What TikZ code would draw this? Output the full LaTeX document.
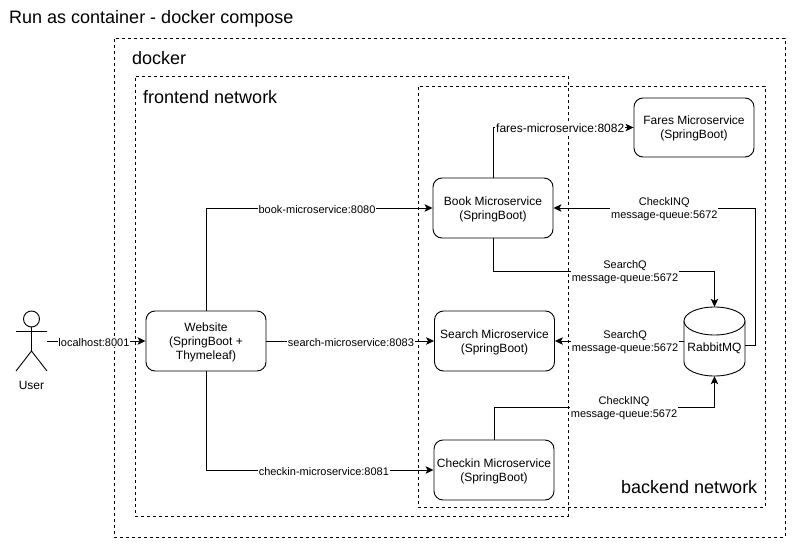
\documentclass[tikz,border=0pt]{standalone}
\usepackage{fontspec}
\setmainfont{Liberation Sans}
\usetikzlibrary{arrows.meta,positioning}
\tikzset{
  x=1pt,y=-1pt,
  zone/.style={draw=black,dash pattern=on 3pt off 3pt,line width=0.8pt,anchor=north west,inner sep=0pt},
  svc/.style={draw=black,line width=0.9pt,rounded corners=9pt,minimum width=120pt,minimum height=60pt,inner sep=0pt,align=center,font=\fontsize{12}{14}\selectfont,text depth=0pt},
  conn/.style={draw=black,line width=0.9pt,-{Stealth[length=8pt,width=7.5pt,inset=2pt]}},
  lab/.style={fill=white,inner sep=0.8pt,align=center,yshift=-1.5pt,font=\fontsize{11}{13.3}\selectfont},
  zonelab/.style={anchor=west,inner sep=0pt,font=\fontsize{18}{21}\selectfont},
}
\begin{document}
\begin{tikzpicture}
\useasboundingbox (0,0) rectangle (801,554);
\fill[white] (0,0) rectangle (801,554);
\node[zone,minimum width=671pt,minimum height=499pt] (docker) at (114,38) {};
\node[zone,minimum width=433pt,minimum height=440pt] (frontend) at (135,76) {};
\node[zone,minimum width=347pt,minimum height=421pt] (backend) at (418,86) {};
\node[zonelab] (title) at (9,19) {Run as container - docker compose};
\node[zonelab] (dockerl) at (132,58) {docker};
\node[zonelab] (frontl) at (143,97) {frontend network};
\node[zonelab] (backl) at (621,487) {backend network};

\node[svc] (web) at (206,341) {Website\\(SpringBoot +\\Thymeleaf)};
\node[svc] (book) at (493,208) {Book Microservice\\(SpringBoot)};
\node[svc] (search) at (494.5,341) {Search Microservice\\(SpringBoot)};
\node[svc] (checkin) at (494,470) {Checkin Microservice\\(SpringBoot)};
\node[svc,minimum height=59pt] (fares) at (694,127.5) {Fares Microservice\\(SpringBoot)};

% cylinder
\node[minimum width=61pt,minimum height=69pt,inner sep=0pt] (mq) at (714.5,341.5) {};
\draw[line width=0.9pt,fill=white] (684,321) -- (684,362) arc[start angle=180,end angle=0,x radius=30.5,y radius=14] -- (745,321);
\draw[line width=0.9pt,fill=white] (714.5,321) ellipse[x radius=30.5,y radius=14];
\node[inner sep=0pt,font=\fontsize{12}{14}\selectfont] (mqtext) at (714.5,348) {RabbitMQ};

% actor
\node[minimum width=31pt,minimum height=60pt,inner sep=0pt] (user) at (31.5,341) {};
\draw[line width=0.9pt] (31.5,319) circle (8);
\draw[line width=0.9pt] (31.5,327) -- (31.5,351) (16,331.5) -- (47,331.5) (16,371) -- (31.5,351) -- (47,371);
\node[inner sep=0pt,font=\fontsize{12}{14}\selectfont] (userl) at (31.5,385) {User};

% connectors
\path[conn] (user.east) -- node[lab,pos=0.475]{localhost:8001} (web.west);
\path[conn] (web.north) |- node[lab,pos=0.745]{book-microservice:8080} (book.west);
\path[conn] (web.east) -- node[lab,pos=0.504]{search-microservice:8083} (search.west);
\path[conn] (web.south) |- node[lab,pos=0.759]{checkin-microservice:8081} (checkin.west);
\path[conn] (book.north) |- node[lab,pos=0.739,yshift=1pt,font=\fontsize{12}{14}\selectfont]{fares-microservice:8082} (fares.west);
\coordinate (bookturn) at (493,271);
\coordinate (mqtop) at (714.5,271);
\path[conn] (book.south) -- (bookturn) -- node[lab,pos=0.596]{SearchQ\\message-queue:5672} (mqtop) -- (mq.north);
\coordinate (mqw) at (684,341);
\coordinate (mqe) at (745,345);
\coordinate (rr) at (755,345);
\coordinate (rt) at (755,208);
\path[conn] (mqw) -- node[lab,pos=0.456]{SearchQ\\message-queue:5672} (search.east);
\path[conn] (mqe) -- (rr) -- (rt) -- node[lab,pos=0.45]{CheckINQ\\message-queue:5672} (book.east);
\coordinate (ct) at (494,407);
\coordinate (cr) at (714.5,407);
\path[conn] (checkin.north) -- (ct) -- node[lab,pos=0.59]{CheckINQ\\message-queue:5672} (cr) -- (mq.south);
\end{tikzpicture}
\end{document}
